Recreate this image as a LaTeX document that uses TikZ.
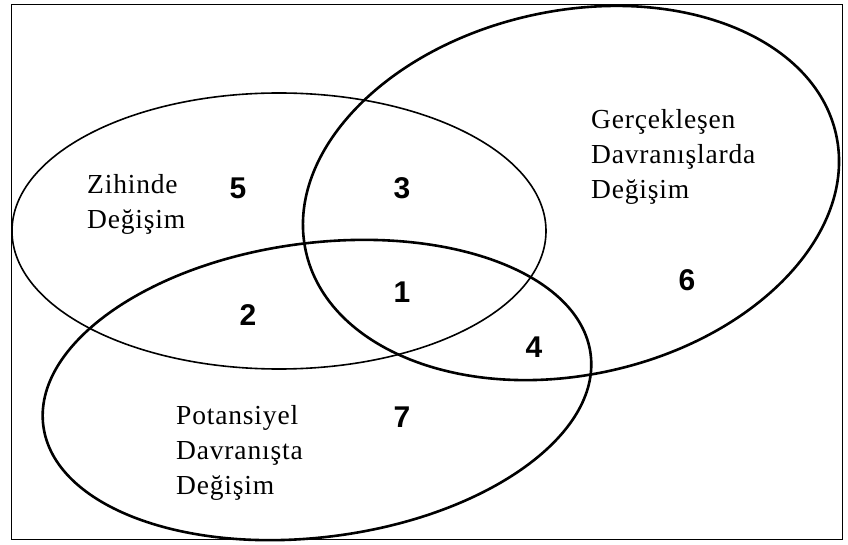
\documentclass[tikz,border=0pt]{standalone}
\usepackage{fontspec}
\setmainfont{Liberation Serif}
\newfontfamily\numfont{Liberation Sans}
\newfontfamily\lblfont[LetterSpace=3]{Liberation Serif}
\begin{document}
\begin{tikzpicture}[x=1pt,y=1pt,
  lbl/.style={anchor=west,align=left,inner sep=0pt,font=\lblfont\fontsize{27.5}{35}\selectfont},
  num/.style={inner sep=0pt,font=\numfont\bfseries\fontsize{30}{32}\selectfont},
  thinring/.style={line width=1.6pt},
  thickring/.style={line width=2.6pt}]
\useasboundingbox (0,0) rectangle (848,544);
\draw[line width=1pt] (11,5) rectangle (842,539);
\coordinate (cz) at (279,313);
\coordinate (cg) at (571,351);
\coordinate (cp) at (317,154);
\draw[thinring] (cz) ellipse [x radius=267,y radius=138];
\draw[thickring,rotate around={12.4:(cg)}] (cg) ellipse [x radius=271.5,y radius=182];
\draw[thickring,rotate around={7.5:(cp)}] (cp) ellipse [x radius=276,y radius=147];
\node[lbl] (zihin) at (87,340) {Zihinde\\Değişim};
\node[lbl] (gercek) at (591,387) {Gerçekleşen\\Davranışlarda\\Değişim};
\node[lbl] (potans) at (176,91) {Potansiyel\\Davranışta\\Değişim};
\node[num] (n1) at (402,252) {1};
\node[num] (n2) at (248,229) {2};
\node[num] (n3) at (402,356) {3};
\node[num] (n4) at (534,197) {4};
\node[num] (n5) at (238,356) {5};
\node[num] (n6) at (687,264) {6};
\node[num] (n7) at (402,127) {7};
\end{tikzpicture}
\end{document}
